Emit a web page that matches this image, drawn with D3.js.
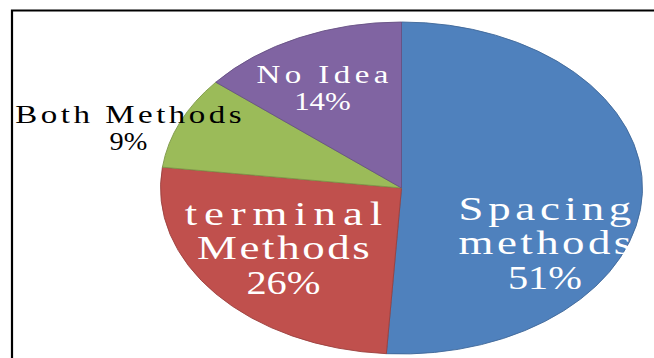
<!DOCTYPE html>
<html>
<head>
<meta charset="utf-8">
<script src="https://cdn.jsdelivr.net/npm/d3@7"></script>
<style>
  html, body { margin: 0; padding: 0; background: #fff; }
  svg { display: block; }
</style>
</head>
<body>
<svg id="chart" width="654" height="358"></svg>
<script>
// Survey answers: share of respondents per method (percent)
const categories = ["Spacing methods", "terminal Methods", "Both Methods", "No Idea"];
const labelLines = [["Spacing", "methods"], ["terminal", "Methods"], ["Both Methods"], ["No Idea"]];
const values = [51, 26, 9, 14];
const colors = ["#4F81BD", "#C0504D", "#9BBB59", "#8064A2"];

// Layout (not data): pie ellipse and label placement in unit-ellipse coordinates
const W = 654, H = 358;
const cx = 401.5, cy = 188, rx = 241, ry = 166;
const labelAnchors = [[0.595, 0.331], [-0.49, 0.361], [-1.133, -0.358], [-0.328, -0.602]];
const labelStyle = [
  { size: 34, lh: 34.5, fill: "#fff" },
  { size: 34, lh: 34.5, fill: "#fff" },
  { size: 25, lh: 27, fill: "#000" },
  { size: 25, lh: 27, fill: "#fff" }
];
const stretch = rx / ry;   // horizontal stretch of the pie
const glyphScale = 1.32;   // horizontal widening of label glyphs

const svg = d3.select("#chart");

// Frame
svg.append("path")
  .attr("d", `M12,${H} L12,10.5 L${W},10.5`)
  .attr("fill", "none")
  .attr("stroke", "#000")
  .attr("stroke-width", 2.2);

const xUnit = d3.scaleLinear().domain([-1, 1]).range([cx - rx, cx + rx]);
const yUnit = d3.scaleLinear().domain([-1, 1]).range([cy - ry, cy + ry]);

const pie = d3.pie().sort(null).value(d => d)
  .startAngle(0).endAngle(2 * Math.PI);
const arcs = pie(values);
const arc = d3.arc().innerRadius(0).outerRadius(ry);

const g = svg.append("g")
  .attr("transform", `translate(${cx},${cy}) scale(${stretch},1)`);

g.selectAll("path.slice")
  .data(arcs)
  .join("path")
  .attr("class", "slice")
  .attr("d", arc)
  .attr("fill", (d, i) => colors[i])
  .attr("stroke", (d, i) => d3.color(colors[i]).darker(0.6))
  .attr("stroke-width", 0.9)
  .attr("vector-effect", "non-scaling-stroke")
  .attr("stroke-linejoin", "round");

// Labels: category lines plus percentage, each glyph on an even half-width advance
const total = d3.sum(values);
arcs.forEach((d, i) => {
  const st = labelStyle[i];
  const lines = labelLines[i].concat([Math.round(d.value / total * 100) + "%"]);
  const lh = st.lh;
  const capH = st.size * 0.66;
  const advance = (i < 2 ? 34 : 26) * 0.5 * stretch;   // on-screen width per character
  const ax = xUnit(labelAnchors[i][0]);
  const ay = yUnit(labelAnchors[i][1]);
  const firstBase = ay + capH / 2 - (lines.length - 1) * lh / 2;
  const lg = svg.append("g")
    .attr("transform", `translate(${ax},0) scale(${glyphScale},1)`);
  lines.forEach((t, k) => {
    const txt = lg.append("text")
      .attr("x", 0)
      .attr("y", firstBase + k * lh)
      .attr("text-anchor", "middle")
      .attr("font-family", "'Liberation Serif', 'DejaVu Serif', serif")
      .attr("font-size", st.size)
      .attr("fill", st.fill)
      .text(t);
    const natural = txt.node().getComputedTextLength();
    const target = t.length * advance / glyphScale;
    txt.attr("textLength", target)
      .attr("lengthAdjust", natural > target ? "spacingAndGlyphs" : "spacing");
  });
});
</script>
</body>
</html>
